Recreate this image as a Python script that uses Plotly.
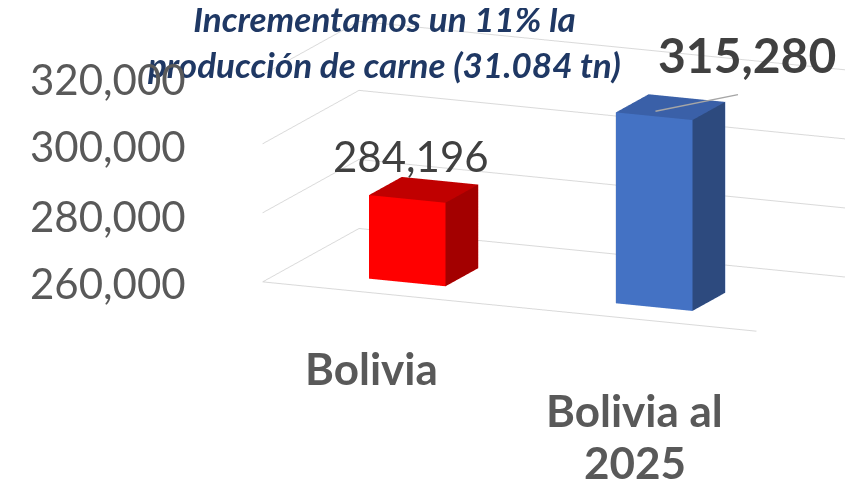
import math
import plotly.graph_objects as go

# chart data
categories = ["Bolivia", "Bolivia al<br>2025"]
values = [284196, 315280]
axis_min = 260000
axis_max = 320000
tick_vals = [260000, 280000, 300000, 320000]
title_text = "Incrementamos un 11% la<br>producción de carne (31.084 tn)"

# bar styling (front, top, side)
bar_colors = [
    ("#FF0000", "#C00000", "#A30000"),
    ("#4472C4", "#3A60A8", "#2D4A7E"),
]
half_w = 0.155
depth = (0.22, 0.56)
eps = 0.01


def cuboid(xc, top, col):
    x0, x1 = xc - half_w, xc + half_w
    y0, y1 = depth
    z0, z1 = axis_min, top
    xs = [x0, x1, x1, x0, x0, x1, x1, x0]
    ys = [y0, y0, y1, y1, y0, y0, y1, y1]
    zs = [z0, z0, z0, z0, z1, z1, z1, z1]
    tri = [(0, 1, 2), (0, 2, 3), (4, 5, 6), (4, 6, 7), (0, 1, 5), (0, 5, 4),
           (3, 2, 6), (3, 6, 7), (0, 3, 7), (0, 7, 4), (1, 2, 6), (1, 6, 5)]
    front, topc, side = col
    fc = [front, front, topc, topc, front, front, front, front, side, side, side, side]
    return go.Mesh3d(
        x=xs, y=ys, z=zs,
        i=[t[0] for t in tri], j=[t[1] for t in tri], k=[t[2] for t in tri],
        facecolor=fc, flatshading=True,
        lighting=dict(ambient=1.0, diffuse=0.0, specular=0.0, fresnel=0.0),
        hoverinfo="skip", showscale=False,
    )


fig = go.Figure()
for i, v in enumerate(values):
    fig.add_trace(cuboid(i, v, bar_colors[i]))

# camera: rotated a bit to the right and looking slightly down
th = math.radians(23)
ph = math.radians(13.6)
dist = 2.68
cx, cy, cz = -0.404, -0.365, -0.263
eye = dict(x=cx + dist * math.cos(ph) * math.sin(th),
           y=cy - dist * math.cos(ph) * math.cos(th),
           z=cz + dist * math.sin(ph))

font = "Lato, Arial, sans-serif"
span = axis_max - axis_min
lead_x, lead_y = 1 - 0.026, 0.3  # where the leader line touches the blue bar top
annotations = [
    dict(x=0, y=depth[0], z=values[0], text=f"{values[0]:,}", showarrow=False,
         xshift=4, yshift=43, font=dict(family=font, size=42, color="#404040")),
    dict(x=lead_x, y=lead_y, z=values[1], text="", showarrow=True,
         arrowhead=0, arrowwidth=1.5, arrowcolor="#A6A6A6", ax=84, ay=-17,
         font=dict(size=1)),
    dict(x=lead_x, y=lead_y, z=values[1], text=f"<b>{values[1]:,}</b>", showarrow=False,
         xshift=92, yshift=57, font=dict(family=font, size=48, color="#404040")),
]
# value axis labels next to the front-left edge
for t in tick_vals:
    zt = min(max(t, axis_min + eps * span), axis_max - eps * span)
    annotations.append(dict(x=-0.5 + eps, y=eps, z=zt, text=f"{t:,}", showarrow=False,
                            xanchor="right", xshift=-78, yshift=-3,
                            font=dict(family=font, size=42, color="#595959")))
# category labels under the floor, one annotation per text line
for i, c in enumerate(categories):
    for k, line in enumerate(c.split("<br>")):
        annotations.append(dict(x=i, y=eps, z=axis_min + eps * span, text=f"<b>{line}</b>",
                                showarrow=False, xshift=-16 + 17 * i,
                                yshift=-76 - 18 * i - 52 * k,
                                font=dict(family=font, size=44, color="#595959")))

fig.update_layout(
    width=853, height=479,
    margin=dict(l=0, r=0, t=0, b=0),
    paper_bgcolor="white",
    showlegend=False,
    scene=dict(
        domain=dict(x=[0, 1], y=[0, 1]),
        xaxis=dict(range=[-0.5, 1.5], showgrid=False, zeroline=False, showticklabels=False,
                   showline=True, linecolor="#D9D9D9", linewidth=2, title="",
                   showbackground=False, showspikes=False, ticks=""),
        yaxis=dict(range=[0, 1], showgrid=False, zeroline=False, showticklabels=False,
                   showline=False, title="", showbackground=False, showspikes=False, ticks=""),
        zaxis=dict(range=[axis_min, axis_max], tickvals=tick_vals,
                   showgrid=True, gridcolor="#D9D9D9", gridwidth=2, zeroline=False,
                   showticklabels=False, showline=False, title="",
                   showbackground=False, showspikes=False, ticks=""),
        aspectmode="manual",
        aspectratio=dict(x=2.24, y=1.03, z=0.89),
        camera=dict(eye=eye, center=dict(x=cx, y=cy, z=cz), up=dict(x=0, y=0, z=1),
                    projection=dict(type="orthographic")),
        annotations=annotations,
    ),
)

fig.add_annotation(
    xref="paper", yref="paper", x=0.441, y=1.027, xanchor="center", yanchor="top",
    text=title_text, showarrow=False, align="center",
    font=dict(family=font, size=35, color="#1F3864", weight="bold", style="italic"),
)

fig.write_html("out.html")
